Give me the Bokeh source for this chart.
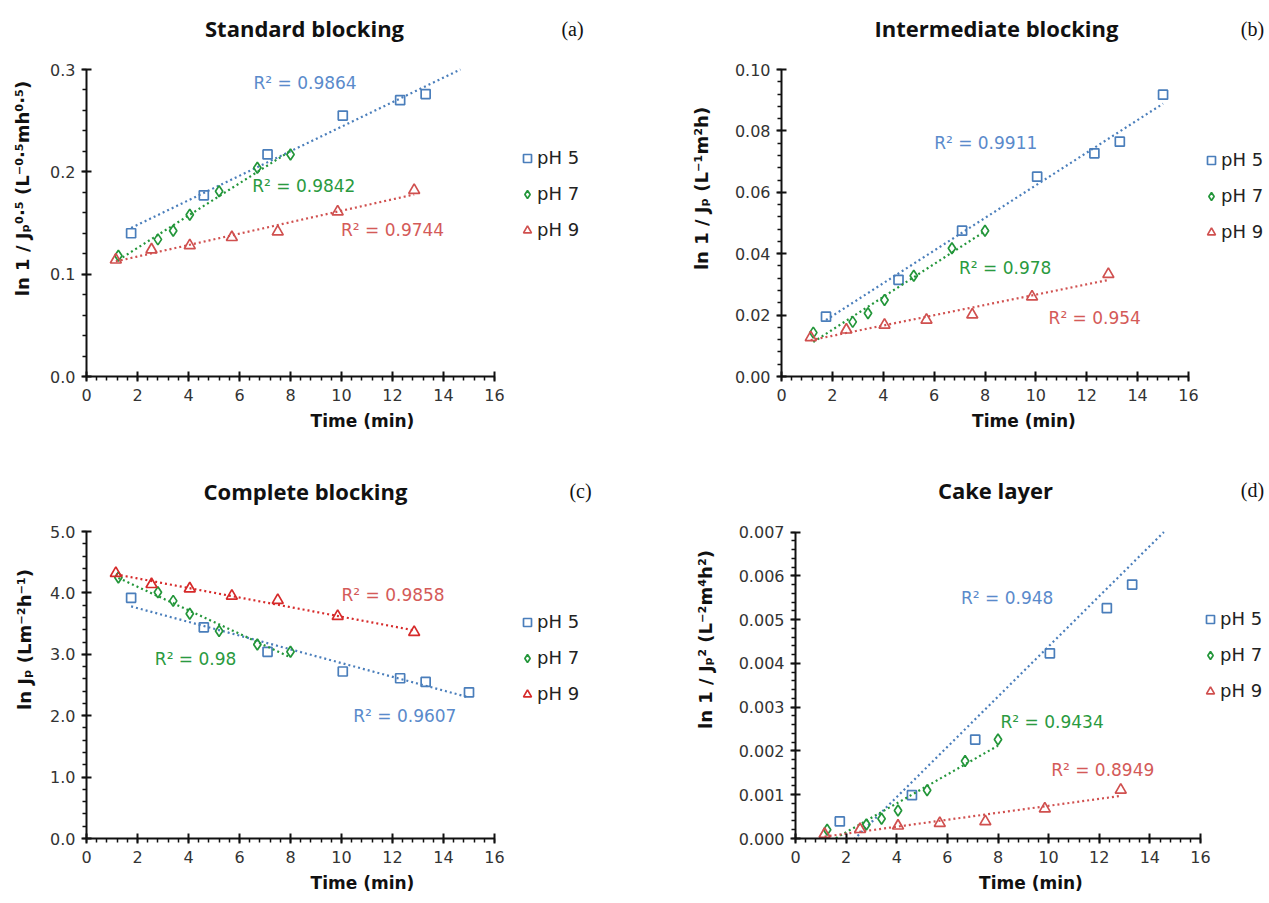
import numpy as np
from bokeh.plotting import figure
from bokeh.layouts import column, row
from bokeh.models import (FixedTicker, PrintfTickFormatter, Legend,
                          LegendItem, Label, Range1d)
from bokeh.embed import file_html
from bokeh.resources import INLINE

# ---------------- data ----------------
series_names = ["pH 5", "pH 7", "pH 9"]

t_ph5 = [1.75, 4.6, 7.1, 10.05, 12.3, 13.3, 15.0]
t_ph7 = [1.25, 2.8, 3.4, 4.05, 5.2, 6.7, 8.0]
t_ph9 = [1.15, 2.55, 4.05, 5.7, 7.5, 9.85, 12.85]

std_ph5 = [0.140, 0.177, 0.217, 0.255, 0.270, 0.276, 0.303]
std_ph7 = [0.118, 0.134, 0.1425, 0.158, 0.181, 0.204, 0.217]
std_ph9 = [0.114, 0.124, 0.128, 0.136, 0.1415, 0.161, 0.182]

int_ph5 = [0.0195, 0.0315, 0.0475, 0.0651, 0.0727, 0.0765, 0.0918]
int_ph7 = [0.0143, 0.0178, 0.0206, 0.0249, 0.0328, 0.0418, 0.0475]
int_ph9 = [0.0127, 0.0152, 0.0168, 0.0184, 0.0201, 0.0260, 0.0333]

com_ph5 = [3.92, 3.44, 3.04, 2.72, 2.61, 2.55, 2.38]
com_ph7 = [4.25, 4.01, 3.87, 3.66, 3.38, 3.16, 3.04]
com_ph9 = [4.32, 4.14, 4.07, 3.95, 3.88, 3.62, 3.36]

cak_ph5 = [0.00039, 0.00099, 0.00226, 0.00423, 0.00526, 0.00580, 0.00840]
cak_ph7 = [0.00020, 0.00032, 0.00045, 0.00064, 0.00110, 0.00177, 0.00226]
cak_ph9 = [0.00010, 0.00021, 0.00029, 0.00035, 0.00039, 0.00068, 0.00111]

r2_std = ["R\u00b2 = 0.9864", "R\u00b2 = 0.9842", "R\u00b2 = 0.9744"]
r2_int = ["R\u00b2 = 0.9911", "R\u00b2 = 0.978", "R\u00b2 = 0.954"]
r2_com = ["R\u00b2 = 0.9607", "R\u00b2 = 0.98", "R\u00b2 = 0.9858"]
r2_cak = ["R\u00b2 = 0.948", "R\u00b2 = 0.9434", "R\u00b2 = 0.8949"]

x_max = 16
x_major = 2
# ---------------- style ----------------
BLUE = "#4a7ebb"
GREEN = "#23963a"
RED = "#d0504f"
RED_C = "#d62a2a"
R2_COLORS = ["#5a8acb", "#2a9a40", "#d45a58"]
MARKERS = ["square", "diamond", "triangle"]
MSIZE = [9, 11, 11]
FONT = "DejaVu Sans"
TFONT = "Open Sans"


def make_panel(title, tag, ylabel, ys, y_end, y_int, y_fmt, r2, r2_pos, colors,
               fig_box, frame_px, title_px, tag_px, legend_px, ylab_standoff):
    fx0, fy0, fw, fh = fig_box          # figure box on page
    FL, XR, FB, YT = frame_px            # axis origin / ends on page
    bl = FL - fx0
    bb = fy0 + fh - FB
    frame_w = fw - bl
    frame_h = fh - bb
    pxu = (XR - FL) / x_max
    pyu = (FB - YT) / y_end
    x_end = frame_w / pxu
    y_top = frame_h / pyu

    def to_data(px, py):
        return (px - FL) / pxu, (FB - py) / pyu

    p = figure(width=fw, height=fh, output_backend="svg",
               toolbar_location=None, title_location=None,
               min_border_left=bl, min_border_right=0,
               min_border_top=0, min_border_bottom=bb,
               x_range=Range1d(0, x_end), y_range=Range1d(0, y_top))
    p.outline_line_color = None
    p.grid.visible = False
    p.background_fill_color = "white"
    p.border_fill_color = "white"

    xt = [float(v) for v in np.arange(0, x_max + 1e-9, x_major)]
    xm = [float(v) for v in np.round(np.arange(0, x_max + 1e-9, x_major / 5), 6)]
    n_major = int(round(y_end / y_int))
    yt = [float(v) for v in np.round(np.linspace(0, y_end, n_major + 1), 8)]
    ym = [float(v) for v in np.round(np.linspace(0, y_end, n_major * 5 + 1), 8)]
    p.xaxis.ticker = FixedTicker(ticks=xt, minor_ticks=xm)
    p.yaxis.ticker = FixedTicker(ticks=yt, minor_ticks=ym)
    p.xaxis.bounds = (0, x_max)
    p.yaxis.bounds = (0, y_end)
    p.yaxis.formatter = PrintfTickFormatter(format=y_fmt)
    p.xaxis.formatter = PrintfTickFormatter(format="%d")
    for ax in (p.xaxis, p.yaxis):
        ax.axis_line_color = "#111111"
        ax.axis_line_width = 2
        ax.major_tick_line_color = "#111111"
        ax.major_tick_line_width = 2
        ax.major_tick_in = 5
        ax.major_tick_out = 5
        ax.minor_tick_line_color = "#111111"
        ax.minor_tick_line_width = 1.5
        ax.minor_tick_in = 0
        ax.minor_tick_out = 4
        ax.major_label_text_font = FONT
        ax.major_label_text_font_size = "16px"
        ax.major_label_text_color = "#333333"
        ax.axis_label_text_font = FONT
        ax.axis_label_text_font_style = "bold"
        ax.axis_label_text_color = "#111111"
    p.xaxis.axis_label_text_font_size = "17px"
    p.yaxis.axis_label_text_font_size = "18px"
    p.xaxis.axis_label = "Time (min)"
    p.xaxis.axis_label_standoff = 7
    p.yaxis.axis_label = ylabel
    p.yaxis.axis_label_standoff = ylab_standoff
    p.xaxis.major_label_standoff = 7
    p.yaxis.major_label_standoff = 6

    ts = [t_ph5, t_ph7, t_ph9]
    items = []
    for i in range(3):
        t = np.array(ts[i])
        y = np.array(ys[i])
        k, b = np.polyfit(t, y, 1)
        t1 = t.max()
        if k > 0 and k * t1 + b > y_end:
            t1 = (y_end - b) / k
        tl = np.linspace(t.min(), t1, 60)
        p.line(tl, k * tl + b, line_color=colors[i], line_width=2.2,
               line_dash="2 3")
        m = y <= y_end
        r = p.scatter(t[m], y[m], marker=MARKERS[i], size=MSIZE[i],
                      line_color=colors[i], line_width=1.7,
                      fill_color="white", fill_alpha=0.0)
        items.append(LegendItem(label=series_names[i], renderers=[r]))
        p.add_layout(Label(x=r2_pos[i][0], y=r2_pos[i][1], text=r2[i],
                           text_color=R2_COLORS[i], text_font=FONT,
                           text_font_size="17px", text_align="left",
                           text_baseline="middle"))

    # legend (glyph box 20 px, three rows 35 px apart)
    gx, gy = legend_px
    vx = gx - 10 - FL
    vy = FB - (gy - 10 + 90)
    leg = Legend(items=items, location=(vx, vy), padding=0, margin=0,
                 spacing=15, glyph_width=20, glyph_height=20, label_height=20,
                 label_standoff=0, border_line_color=None,
                 background_fill_alpha=0.0, label_text_font=FONT,
                 label_text_font_size="18px", label_text_color="#222222")
    p.add_layout(leg)

    tx, ty = to_data(*title_px)
    p.add_layout(Label(x=tx, y=ty, text=title, text_font=TFONT,
                       text_font_size="22px", text_font_style="bold",
                       text_align="center", text_baseline="middle",
                       text_color="#111111"))
    gx2, gy2 = to_data(*tag_px)
    p.add_layout(Label(x=gx2, y=gy2, text=tag, text_font="Liberation Serif",
                       text_font_size="20px", text_align="center",
                       text_baseline="middle", text_color="#111111"))
    return p


pa = make_panel("Standard blocking", "(a)",
                "ln 1 / J\u209a\u2070\u00b7\u2075 (L\u207b\u2070\u00b7\u2075mh\u2070\u00b7\u2075)",
                [std_ph5, std_ph7, std_ph9], 0.3, 0.1, "%.1f",
                r2_std, [(6.55, 0.287), (6.5, 0.186), (9.98, 0.143)],
                [BLUE, GREEN, RED],
                (0, 0, 638, 440), (86, 494, 376, 69),
                (304, 27), (572, 28), (527, 160), 14)

pb = make_panel("Intermediate blocking", "(b)",
                "ln 1 / J\u209a (L\u207b\u00b9m\u00b2h)",
                [int_ph5, int_ph7, int_ph9], 0.10, 0.02, "%.2f",
                r2_int, [(6.0, 0.0762), (6.98, 0.0355), (10.5, 0.0192)],
                [BLUE, GREEN, RED],
                (638, 0, 628, 440), (781, 1188, 376, 69),
                (996, 27), (1252, 28), (1211, 162), 20)

pc = make_panel("Complete blocking", "(c)",
                "ln J\u209a (Lm\u207b\u00b2h\u207b\u00b9)",
                [com_ph5, com_ph7, com_ph9], 5.0, 1.0, "%.1f",
                r2_com, [(10.46, 2.0), (2.68, 2.93), (10.0, 3.97)],
                [BLUE, GREEN, RED_C],
                (0, 440, 638, 458), (86, 494, 838, 531),
                (305, 490), (580, 490), (527, 624), 12)

pd_ = make_panel("Cake layer", "(d)",
                 "ln 1 / J\u209a\u00b2 (L\u207b\u00b2m\u2074h\u00b2)",
                 [cak_ph5, cak_ph7, cak_ph9], 0.007, 0.001, "%.3f",
                 r2_cak, [(6.54, 0.0055), (8.1, 0.00266), (10.1, 0.00157)],
                 [BLUE, GREEN, RED],
                 (638, 440, 628, 458), (795, 1200, 840, 532),
                 (995, 490), (1252, 490), (1210, 623), 20)

layout = column(row(pa, pb), row(pc, pd_))
open("out.html", "w").write(file_html(layout, INLINE))
